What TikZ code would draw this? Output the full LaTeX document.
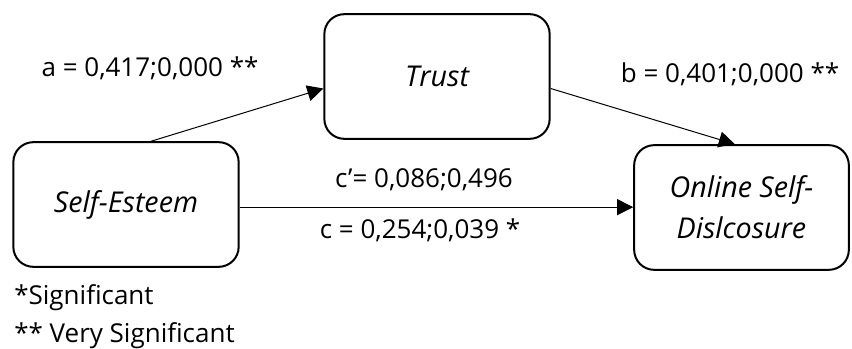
\documentclass[tikz,border=0pt]{standalone}
\usepackage{fontspec}
\setmainfont{Open Sans}
\usepackage{tikz}
\usetikzlibrary{arrows.meta}
\usetikzlibrary{shapes}

\tikzset{
  varbox/.style={draw, line width=1.5pt, rounded corners=15pt, minimum width=169pt, minimum height=93.5pt, inner sep=0.75pt, align=center, font=\fontsize{21.5}{31}\selectfont\itshape},
  arr/.style={line width=0.75pt, -{Triangle[length=12pt, width=12pt]}}
}

\begin{document}
\begin{tikzpicture}[x=0.75pt,y=0.75pt,yscale=-1,xscale=1,font=\fontsize{19.5}{26}\selectfont]
\useasboundingbox (0,0) rectangle (852,349);

%Shape: Rounded Rectangle [id:se]
\node [varbox] (se) at (126,204.5) {Self-Esteem};
%Shape: Rounded Rectangle [id:tr]
\node [varbox] (tr) at (437,76.5) {Trust};
%Shape: Rounded Rectangle [id:os]
\node [varbox, minimum width=161pt] (os) at (741.5,207.5) {Online Self-\\Dislcosure};

%Straight Lines [id:a]
\draw [arr] ([xshift=19pt]se.north) -- ([yshift=9pt]tr.west) ;
%Straight Lines [id:b]
\draw [arr] ([yshift=9pt]tr.east) -- ([xshift=-5pt]os.north) ;
%Straight Lines [id:c]
\draw [arr] ([yshift=2pt]se.east) -- ([yshift=2pt]se.east -| os.west) ;

% Text Node
\node [inner sep=0.75pt] (la) at (150,68) {a = 0,417;0,000 **};
% Text Node
\node [inner sep=0.75pt] (lb) at (730,74) {b = 0,401;0,000 **};
% Text Node
\node [inner sep=0.75pt] (lcp) at (424,180) {c’= 0,086;0,496};
% Text Node
\node [inner sep=0.75pt] (lc) at (420,230) {c = 0,254;0,039 *};
% Text Node
\node [anchor=west, inner sep=0.75pt] (sig) at (13,298) {*Significant};
% Text Node
\node [anchor=west, inner sep=0.75pt] (vsig) at (13,336) {** Very Significant};

\end{tikzpicture}
\end{document}
